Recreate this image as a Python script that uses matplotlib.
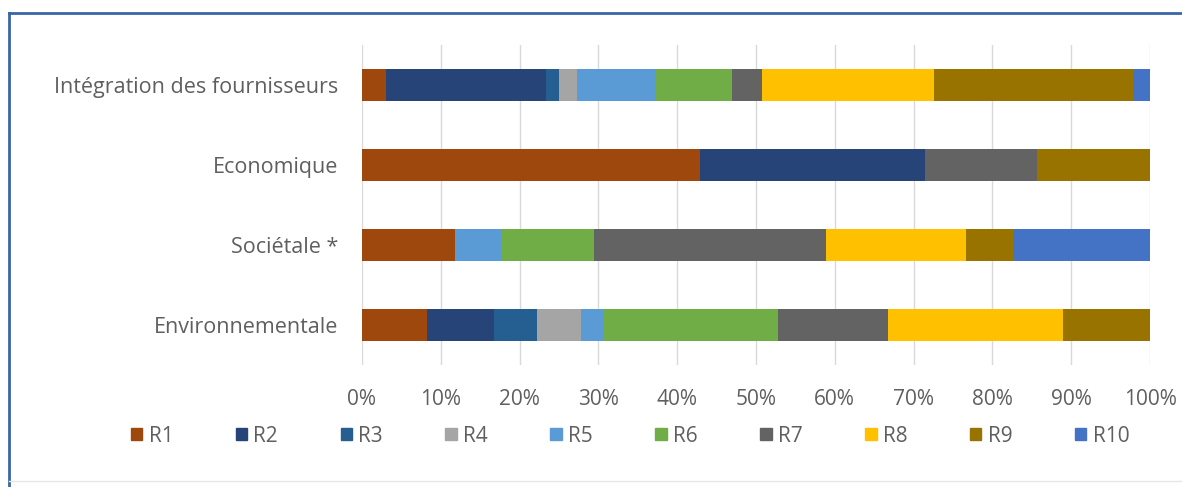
import matplotlib
matplotlib.use('Agg')
import matplotlib.pyplot as plt
import matplotlib.patches as mpatches
from matplotlib.lines import Line2D
import numpy as np

categories = ['Intégration des fournisseurs', 'Economique', 'Sociétale *', 'Environnementale']
series = ['R1', 'R2', 'R3', 'R4', 'R5', 'R6', 'R7', 'R8', 'R9', 'R10']

# share of each R per category, in %
r1 = [3.0, 42.9, 11.8, 8.3]
r2 = [20.3, 28.6, 0.0, 8.4]
r3 = [1.7, 0.0, 0.0, 5.5]
r4 = [2.3, 0.0, 0.0, 5.6]
r5 = [9.9, 0.0, 5.8, 2.8]
r6 = [9.8, 0.0, 11.8, 22.2]
r7 = [3.8, 14.2, 29.4, 13.9]
r8 = [21.8, 0.0, 17.7, 22.2]
r9 = [25.3, 14.3, 5.9, 11.1]
r10 = [2.1, 0.0, 17.4, 0.0]
values = [r1, r2, r3, r4, r5, r6, r7, r8, r9, r10]

colors = ['#9E480E', '#264478', '#255E91', '#A5A5A5', '#5B9BD5',
          '#70AD47', '#636363', '#FFC000', '#997300', '#4472C4']

plt.rcParams['font.family'] = ['Open Sans', 'DejaVu Sans']
TXT = '#5f5f5f'
FS = 15

fig = plt.figure(figsize=(11.82, 4.87), dpi=100)
fig.patch.set_facecolor('white')
ax = fig.add_axes([362 / 1182, 1 - 365 / 487, 788 / 1182, 320 / 487])

y = np.arange(len(categories))
data = np.array(values, dtype=float)
data = data / data.sum(axis=0) * 100
left = np.zeros(len(categories))
for name, vals, col in zip(series, data, colors):
    ax.barh(y, vals, left=left, height=0.41, color=col, label=name, zorder=3)
    left += vals

ax.set_xlim(0, 100)
ax.set_ylim(len(categories) - 0.5, -0.5)
ax.set_yticks(y)
ax.set_yticklabels(categories, fontsize=15.5, color=TXT)
ax.set_xticks(np.arange(0, 101, 10))
ax.set_xticklabels(['%d%%' % v for v in range(0, 101, 10)], fontsize=FS, color=TXT)
ax.tick_params(axis='y', length=0, pad=17)
ax.tick_params(axis='x', length=0, pad=17)
ax.grid(axis='x', color='#D9D9D9', linewidth=1, zorder=0)
for s in ax.spines.values():
    s.set_visible(False)

handles = [mpatches.Patch(color=c, label=n) for n, c in zip(series, colors)]
leg = fig.legend(handles=handles, loc='center', bbox_to_anchor=(630 / 1182, 1 - 436 / 487),
                 ncol=10, frameon=False, fontsize=FS, handlelength=0.55, handleheight=0.55,
                 handletextpad=0.3, columnspacing=3.0)
for t in leg.get_texts():
    t.set_color(TXT)

# outer frame
fig.add_artist(Line2D([9 / 1182, 1.0], [1 - 13 / 487, 1 - 13 / 487], color='#3A66A8', linewidth=2))
fig.add_artist(Line2D([9 / 1182, 9 / 1182], [0, 1 - 13 / 487], color='#3A66A8', linewidth=2))
fig.add_artist(Line2D([9 / 1182, 1.0], [1 - 481 / 487, 1 - 481 / 487], color='#E6E6E6', linewidth=1))

plt.savefig('out.png', dpi=100, facecolor=fig.get_facecolor())
plt.close()
